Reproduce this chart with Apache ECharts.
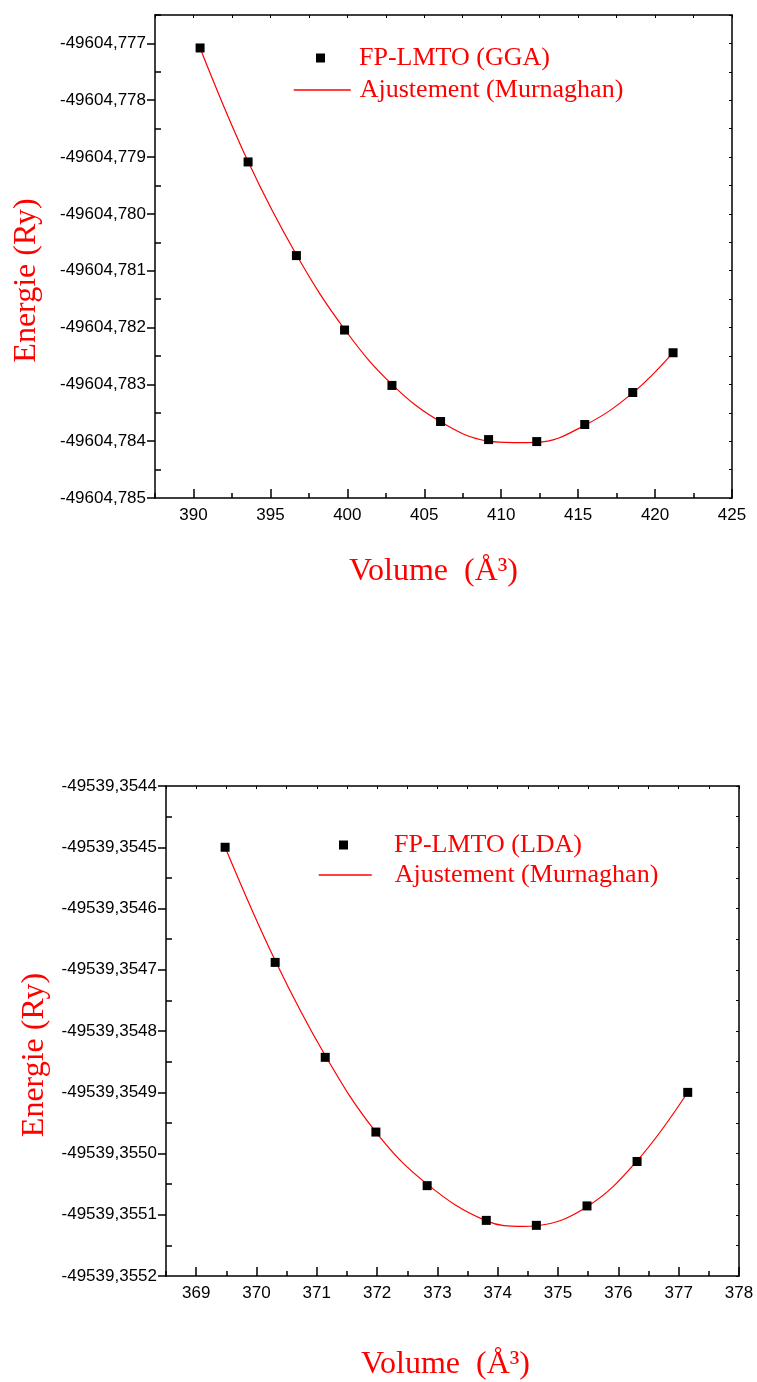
<!DOCTYPE html>
<html>
<head>
<meta charset="utf-8">
<script src="https://cdn.jsdelivr.net/npm/echarts@6/dist/echarts.min.js"></script>
<style>
  html, body { margin: 0; padding: 0; background: #fff; }
  #chart { width: 757px; height: 1382px; }
</style>
</head>
<body>
<div id="chart"></div>
<script>
// GGA: computed points and Murnaghan fit
const ggaVolume = [390.43, 393.55, 396.69, 399.82, 402.90, 406.06, 409.18, 412.31, 415.43, 418.55, 421.17];
const ggaEnergy = [-49604.77708, -49604.779086, -49604.780734, -49604.782044, -49604.783019, -49604.783654,
                   -49604.783972, -49604.784007, -49604.783707, -49604.783143, -49604.782444];
const ggaFitVolume = [390.43, 393.55, 396.69, 399.82, 402.90, 406.06, 409.18, 410.75, 412.31, 415.43, 418.55, 421.17];
const ggaFitEnergy = [-49604.77708, -49604.77908, -49604.78072, -49604.78203, -49604.78300, -49604.78366,
                      -49604.78400, -49604.784025, -49604.78402, -49604.78372, -49604.78315, -49604.78244];

// LDA: computed points and Murnaghan fit
const ldaVolume = [369.48, 370.31, 371.14, 371.98, 372.83, 373.81, 374.64, 375.48, 376.31, 377.15];
const ldaEnergy = [-49539.35450, -49539.354688, -49539.354843, -49539.354965, -49539.3550525,
                   -49539.3551092, -49539.3551173, -49539.3550856, -49539.3550131, -49539.3549002];
const ldaFitVolume = [369.48, 370.31, 371.14, 371.98, 372.83, 373.81, 374.41, 374.64, 375.48, 376.31, 377.15];
const ldaFitEnergy = [-49539.35450, -49539.354685, -49539.354840, -49539.354965, -49539.355050,
                      -49539.355110, -49539.355119, -49539.355118, -49539.355087, -49539.355012, -49539.354900];

// Tick labels
const ggaXTicks = [390, 395, 400, 405, 410, 415, 420, 425];
const ggaYTicks = [-49604.785, -49604.784, -49604.783, -49604.782, -49604.781, -49604.780, -49604.779, -49604.778, -49604.777];
const ldaXTicks = [369, 370, 371, 372, 373, 374, 375, 376, 377, 378];
const ldaYTicks = [-49539.3552, -49539.3551, -49539.3550, -49539.3549, -49539.3548, -49539.3547, -49539.3546, -49539.3545, -49539.3544];

const RED = '#ff0000';
const SANS = '"Liberation Sans", Arial, sans-serif';
const SERIF = '"Liberation Serif", "Times New Roman", serif';

// half-step positions between major ticks (plus one before the first)
function minorOf(ticks) {
  const step = ticks[1] - ticks[0];
  const out = [ticks[0] - step / 2];
  for (let i = 0; i < ticks.length - 1; i++) out.push((ticks[i] + ticks[i + 1]) / 2);
  out.push(ticks[ticks.length - 1] + step / 2);
  return out;
}

const axisLineStyle = { show: true, onZero: false, lineStyle: { color: '#000', width: 1.5 } };

function buildAxes(gridIndex, xr, yr, xTicks, yTicks, yDecimals, yNameGap, xNameGap, xNamePad) {
  const xMinor = minorOf(xTicks);
  const yMinor = minorOf(yTicks);
  const xAll = xTicks.concat(xMinor);
  const yAll = yTicks.concat(yMinor);
  const base = { type: 'value', gridIndex, splitLine: { show: false } };
  const xs = [
    Object.assign({}, base, {
      min: xr[0], max: xr[1], position: 'bottom',
      axisLine: axisLineStyle,
      axisTick: { show: true, inside: true, length: 9, customValues: xTicks, lineStyle: { color: '#000', width: 1.5 } },
      axisLabel: { customValues: xTicks, margin: 9, color: '#000', fontFamily: SANS, fontSize: 17 },
      name: 'Volume  (Å³)', nameLocation: 'middle', nameGap: xNameGap,
      nameTextStyle: { color: RED, fontFamily: SERIF, fontSize: 32, padding: xNamePad }
    }),
    Object.assign({}, base, {
      min: xr[0], max: xr[1], position: 'bottom',
      axisLine: { show: false },
      axisTick: { show: true, inside: true, length: 5, customValues: xMinor, lineStyle: { color: '#000', width: 1.5 } },
      axisLabel: { show: false }
    }),
    Object.assign({}, base, {
      min: xr[0], max: xr[1], position: 'top',
      axisLine: axisLineStyle,
      axisTick: { show: true, inside: true, length: 3, customValues: xAll, lineStyle: { color: '#000', width: 1 } },
      axisLabel: { show: false }
    })
  ];
  const ys = [
    Object.assign({}, base, {
      min: yr[0], max: yr[1], position: 'left',
      axisLine: axisLineStyle,
      axisTick: { show: true, inside: false, length: 8, customValues: yTicks, lineStyle: { color: '#000', width: 1.5 } },
      axisLabel: {
        customValues: yTicks, margin: 9, color: '#000', fontFamily: SANS, fontSize: 17,
        formatter: v => v.toFixed(yDecimals).replace('.', ',')
      },
      name: 'Energie (Ry)', nameLocation: 'middle', nameRotate: 90, nameGap: yNameGap,
      nameTextStyle: { color: RED, fontFamily: SERIF, fontSize: 32, padding: [0, 48, 0, 0] }
    }),
    Object.assign({}, base, {
      min: yr[0], max: yr[1], position: 'left',
      axisLine: { show: false },
      axisTick: { show: true, inside: true, length: 6, customValues: yMinor, lineStyle: { color: '#000', width: 1.5 } },
      axisLabel: { show: false }
    }),
    Object.assign({}, base, {
      min: yr[0], max: yr[1], position: 'right',
      axisLine: axisLineStyle,
      axisTick: { show: true, inside: true, length: 3, customValues: yAll, lineStyle: { color: '#000', width: 1 } },
      axisLabel: { show: false }
    })
  ];
  return { xs, ys };
}

const ggaAxes = buildAxes(0, [387.5, 425], [-49604.785, -49604.7765], ggaXTicks, ggaYTicks, 3, 112, 58, [0, 20, 0, 0]);
const ldaAxes = buildAxes(1, [368.5, 378], [-49539.3552, -49539.3544], ldaXTicks, ldaYTicks, 4, 112, 73, [0, 14, 0, 0]);

const zipXY = (xs, ys) => xs.map((x, i) => [x, ys[i]]);

const legendText = { color: RED, fontFamily: SERIF, fontSize: 26, lineHeight: 30 };

function pointsSeries(name, xi, yi, vols, ens) {
  return {
    name, type: 'scatter', xAxisIndex: xi, yAxisIndex: yi,
    symbol: 'rect', symbolSize: 9, itemStyle: { color: '#000', opacity: 1 }, z: 5,
    data: zipXY(vols, ens)
  };
}
function fitSeries(xi, yi, vols, ens) {
  return {
    name: 'Ajustement (Murnaghan)', type: 'line', xAxisIndex: xi, yAxisIndex: yi,
    smooth: 0.4, showSymbol: false, symbol: 'none',
    lineStyle: { color: RED, width: 1.2 }, itemStyle: { color: RED }, z: 3,
    data: zipXY(vols, ens)
  };
}

// one legend block for the points, one for the fitted line
function pointLegend(name, left, topPx, textPad) {
  return {
    data: [{ name, icon: 'rect' }], left, top: topPx, orient: 'vertical', padding: 0,
    itemWidth: 9, itemHeight: 9, selectedMode: false,
    itemStyle: { color: '#000', opacity: 1 },
    textStyle: Object.assign({ padding: [0, 0, 0, textPad] }, legendText)
  };
}
function lineLegend(left, topPx, width, textPad) {
  return {
    data: ['Ajustement (Murnaghan)'], left, top: topPx, orient: 'vertical', padding: 0,
    itemWidth: width, itemHeight: 12, selectedMode: false,
    itemStyle: { opacity: 0 },
    lineStyle: { color: RED, width: 1.5 },
    textStyle: Object.assign({ padding: [0, 0, 0, textPad] }, legendText)
  };
}

const option = {
  animation: false,
  backgroundColor: '#fff',
  grid: [
    { left: 155, top: 15, width: 577, height: 483 },
    { left: 166, top: 786, width: 573, height: 494 }
  ],
  xAxis: ggaAxes.xs.concat(ldaAxes.xs),
  yAxis: ggaAxes.ys.concat(ldaAxes.ys),
  legend: [
    pointLegend('FP-LMTO (GGA)', 316, 43, 29),
    lineLegend(293, 75, 57, 4),
    pointLegend('FP-LMTO (LDA)', 339, 830, 41),
    lineLegend(318, 860, 53, 18)
  ],
  series: [
    fitSeries(0, 0, ggaFitVolume, ggaFitEnergy),
    pointsSeries('FP-LMTO (GGA)', 0, 0, ggaVolume, ggaEnergy),
    fitSeries(3, 3, ldaFitVolume, ldaFitEnergy),
    pointsSeries('FP-LMTO (LDA)', 3, 3, ldaVolume, ldaEnergy)
  ]
};

const chart = echarts.init(document.getElementById('chart'), null, { renderer: 'canvas' });
chart.setOption(option);
</script>
</body>
</html>
